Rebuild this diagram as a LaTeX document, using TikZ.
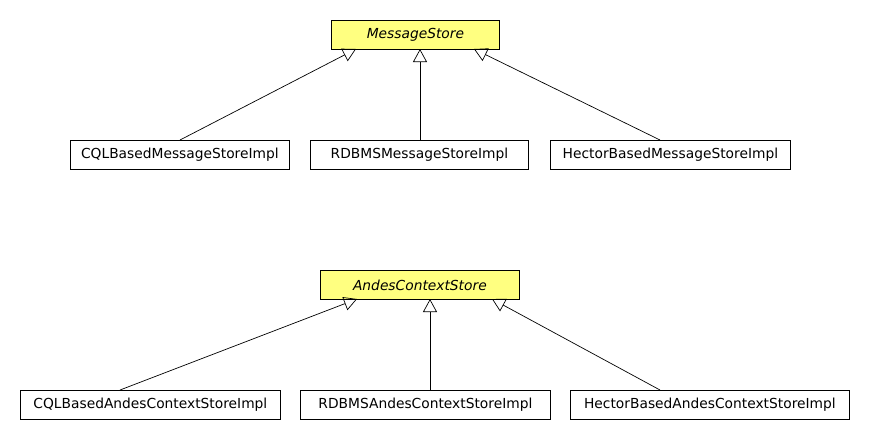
\documentclass[tikz,border=0pt]{standalone}
\usepackage{fontspec}
\setmainfont{DejaVu Sans}
\usetikzlibrary{arrows.meta}
\definecolor{ifyellow}{RGB}{255,255,128}
\tikzset{
  cls/.style={draw=black, line width=0.8pt, fill=white, minimum height=29pt, inner sep=0pt, font=\fontsize{13.8}{16}\selectfont, anchor=north west},
  iface/.style={cls, fill=ifyellow, font=\fontsize{13.8}{16}\selectfont\itshape},
  gen/.style={-{Triangle[open, length=13pt, width=14pt]}, line width=0.7pt, draw=black}
}
\begin{document}
\begin{tikzpicture}[x=1pt,y=-1pt]
\useasboundingbox (0,0) rectangle (870,440);
% top group
\node[iface, minimum width=168pt] (ms) at (331,20) {MessageStore};
\node[cls, minimum width=219pt] (cqlm) at (70,140) {CQLBasedMessageStoreImpl};
\node[cls, minimum width=218pt] (rdbm) at (310,140) {RDBMSMessageStoreImpl};
\node[cls, minimum width=240pt] (hecm) at (550,140) {HectorBasedMessageStoreImpl};
\coordinate (ms1) at (356,49);
\coordinate (ms2) at (420,49);
\coordinate (ms3) at (474,49);
\draw[gen] (cqlm.north -| 180,0) -- (ms1);
\draw[gen] (rdbm.north -| 420,0) -- (ms2);
\draw[gen] (hecm.north -| 660,0) -- (ms3);
% bottom group
\node[iface, minimum width=199pt] (acs) at (320,270) {AndesContextStore};
\node[cls, minimum width=260pt] (cqla) at (20,390) {CQLBasedAndesContextStoreImpl};
\node[cls, minimum width=250pt] (rdba) at (300,390) {RDBMSAndesContextStoreImpl};
\node[cls, minimum width=279pt] (heca) at (570,390) {HectorBasedAndesContextStoreImpl};
\coordinate (acs1) at (357,299);
\coordinate (acs2) at (430,299);
\coordinate (acs3) at (492,299);
\draw[gen] (cqla.north -| 120,0) -- (acs1);
\draw[gen] (rdba.north -| 430,0) -- (acs2);
\draw[gen] (heca.north -| 660,0) -- (acs3);
\end{tikzpicture}
\end{document}
